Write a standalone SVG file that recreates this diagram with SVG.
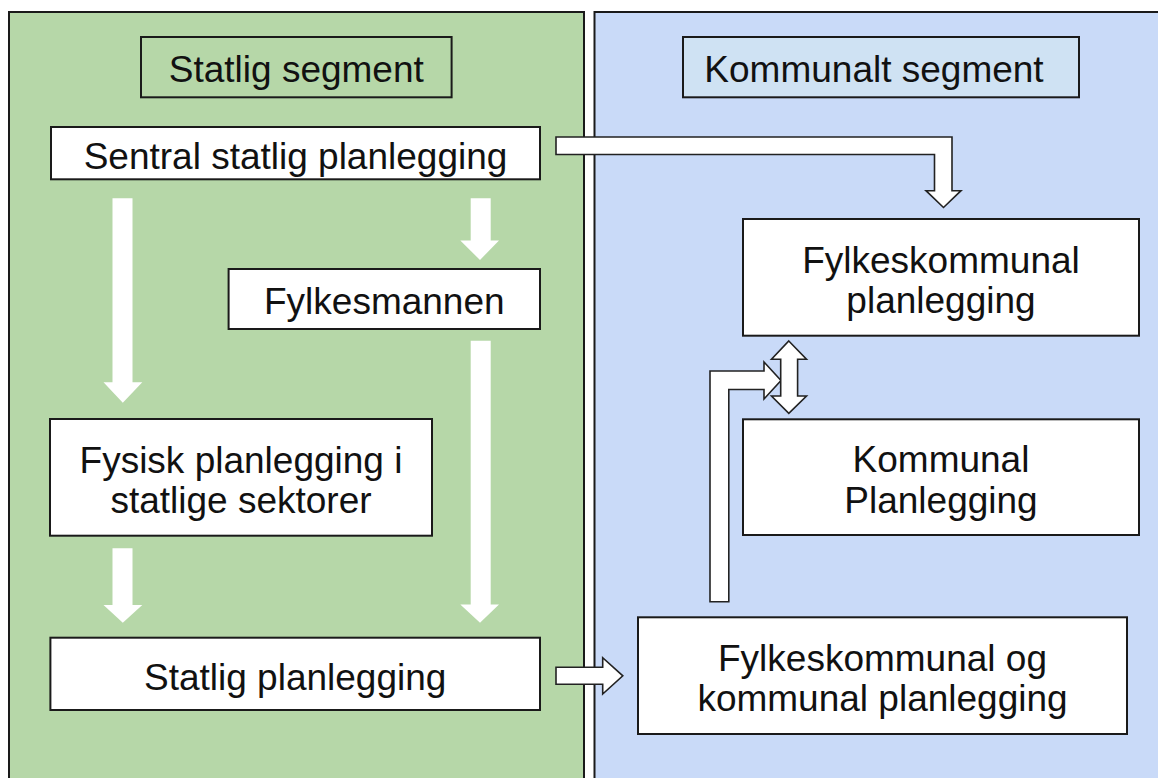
<svg xmlns="http://www.w3.org/2000/svg" width="1158" height="778" viewBox="0 0 1158 778">
<style>
.panel{stroke:#1a1a1a;stroke-width:2}
.box{fill:#ffffff;stroke:#1a1a1a;stroke-width:2}
.t{font-family:"Liberation Sans",Arial,sans-serif;font-size:37px;fill:#111;text-anchor:middle}
.wa{fill:#ffffff;stroke:none}
.oa{fill:#ffffff;stroke:#222;stroke-width:1.6;stroke-linejoin:miter}
</style>
<rect x="0" y="0" width="1158" height="778" fill="#ffffff"/>
<g id="panel-statlig"><rect class="panel" x="9" y="12" width="575" height="800" fill="#b6d7a8"/></g>
<g id="panel-kommunal"><rect class="panel" x="594.5" y="12" width="600" height="800" fill="#c9daf8"/></g>

<g id="connectors">
  <polygon class="wa" points="112.5,198.3 132.5,198.3 132.5,382.3 142.3,382.3 122.8,402.7 103.5,382.3 112.5,382.3"/>
  <polygon class="wa" points="470.7,198.3 490.7,198.3 490.7,240.5 499,240.5 480,260 460.3,240.5 470.7,240.5"/>
  <polygon class="wa" points="470.7,340.7 490.7,340.7 490.7,604.5 499,604.5 480,622.7 460.3,604.5 470.7,604.5"/>
  <polygon class="wa" points="112.5,548.3 132.5,548.3 132.5,605 142.3,605 122.8,622.7 103.5,605 112.5,605"/>
  <polygon class="oa" points="556,137 952,137 952,190.7 961,190.7 943.5,207.5 926,190.7 934.5,190.7 934.5,154.5 556,154.5"/>
  <polygon class="oa" points="556,667.3 602.7,667.3 602.7,657.7 622.8,675.8 602.7,694 602.7,684.3 556,684.3"/>
  <polygon class="oa" points="710,601.7 710,371 764,371 764,362 781,380.5 764,399 764,389.5 728.8,389.5 728.8,601.7"/>
  <polygon class="oa" points="788.8,341 806.5,359.3 797.6,359.3 797.6,396 806.5,396 788.8,413.3 771.5,396 780.7,396 780.7,359.3 771.5,359.3"/>
</g>

<g id="label-statlig"><rect x="141" y="37" width="310.6" height="60.3" fill="#b6d7a8" stroke="#1a1a1a" stroke-width="2"/><text class="t" x="296.3" y="82">Statlig segment</text></g>
<g id="label-kommunal"><rect x="683" y="37" width="396" height="60.3" fill="#cfe2f3" stroke="#1a1a1a" stroke-width="2"/><text class="t" x="874" y="82">Kommunalt segment</text></g>

<g id="node-sentral"><rect class="box" x="51" y="127" width="489" height="52.3"/><text class="t" x="295.5" y="169">Sentral statlig planlegging</text></g>
<g id="node-fylkesmannen"><rect class="box" x="228.6" y="269" width="311.4" height="60"/><text class="t" x="384.3" y="314">Fylkesmannen</text></g>
<g id="node-fysisk"><rect class="box" x="50" y="419" width="382" height="116.7"/><text class="t" x="241" y="472.5">Fysisk planlegging i</text><text class="t" x="241" y="513">statlige sektorer</text></g>
<g id="node-statlig-plan"><rect class="box" x="50.4" y="637.7" width="489.6" height="72.3"/><text class="t" x="295.2" y="689.5">Statlig planlegging</text></g>
<g id="node-fylkeskommunal"><rect class="box" x="743" y="219" width="396" height="116.7"/><text class="t" x="941" y="272.5">Fylkeskommunal</text><text class="t" x="941" y="313">planlegging</text></g>
<g id="node-kommunal"><rect class="box" x="743" y="419.3" width="396" height="115.7"/><text class="t" x="941" y="472.3">Kommunal</text><text class="t" x="941" y="512.8">Planlegging</text></g>
<g id="node-fk-og-k"><rect class="box" x="638" y="617.3" width="489" height="116.7"/><text class="t" x="882.5" y="670.8">Fylkeskommunal og</text><text class="t" x="882.5" y="711.3">kommunal planlegging</text></g>
</svg>
